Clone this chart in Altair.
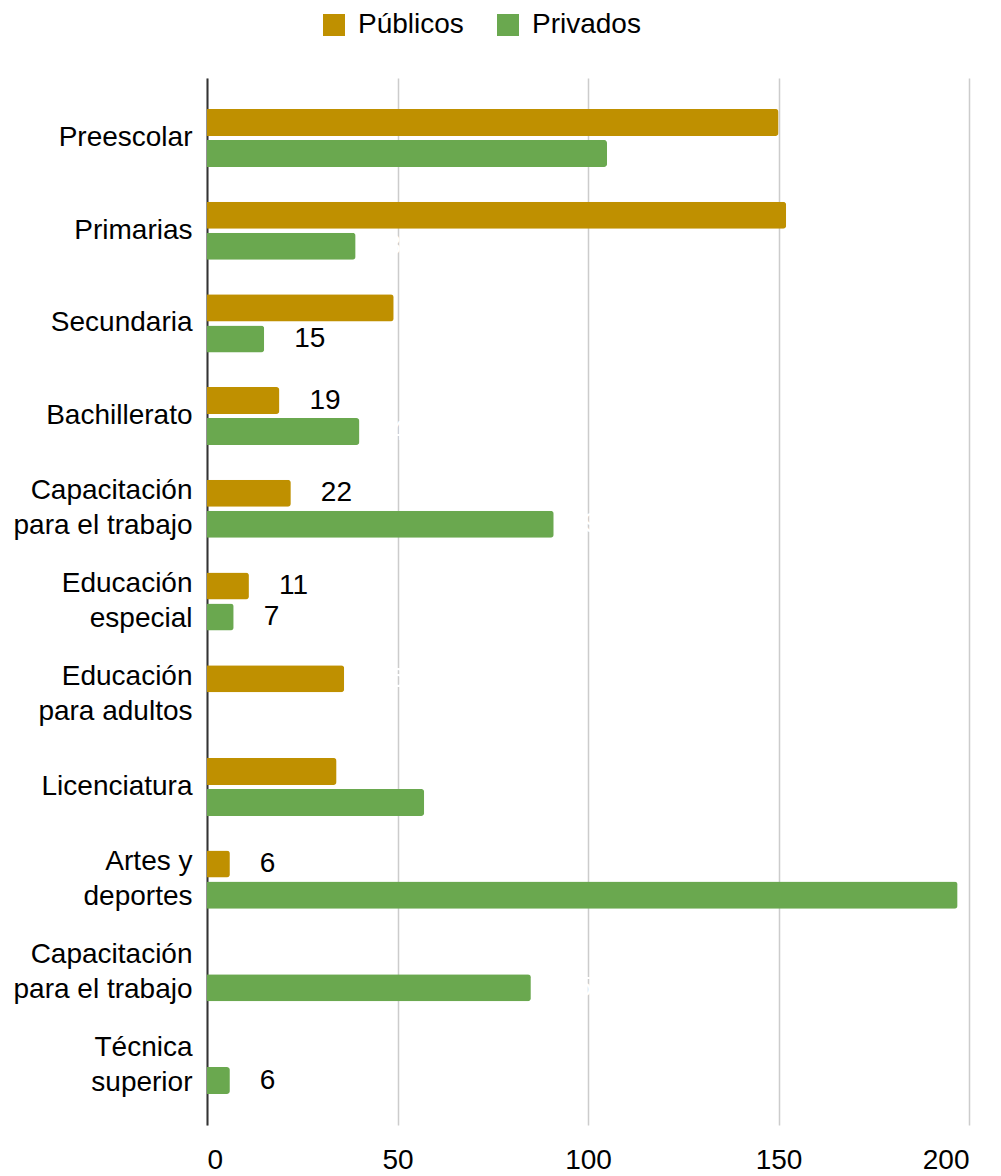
import json
import altair as alt
import pandas as pd

categories = [
    "Preescolar", "Primarias", "Secundaria", "Bachillerato",
    "Capacitación\npara el trabajo", "Educación\nespecial",
    "Educación\npara adultos", "Licenciatura", "Artes y\ndeportes",
    "Capacitación\npara el trabajo", "Técnica\nsuperior",
]
publicos = [150, 152, 49, 19, 22, 11, 36, 34, 6, None, None]
privados = [105, 39, 15, 40, 91, 7, None, 57, 197, 85, 6]
series = ["Públicos", "Privados"]
colors = ["#BF9000", "#6AA84F"]

rows = []
for i in range(len(categories)):
    for s, vals in zip(series, [publicos, privados]):
        if vals[i] is not None:
            rows.append({"idx": i, "serie": s, "v": vals[i]})
df = pd.DataFrame(rows)

label_lines = [c.split("\n") for c in categories]
label_expr = json.dumps(label_lines, ensure_ascii=False) + "[datum.value]"
multi_idx = [i for i, c in enumerate(categories) if "\n" in c]
multi_test = "indexof(" + json.dumps(multi_idx) + ", datum.value) >= 0"

FONT = "Liberation Sans"

y_enc = alt.Y("idx:O", sort="ascending",
              scale=alt.Scale(paddingInner=0.374, paddingOuter=0.334),
              axis=alt.Axis(title=None, labelExpr=label_expr, labelFontSize=28,
                            labelFont=FONT, labelColor="#000", labelPadding=15,
                            labelLineHeight=35, ticks=False, domain=True,
                            domainColor="#333", domainWidth=2, grid=False,
                            labelLimit=300,
                            labelOffset={"condition": {"test": multi_test, "value": -17.5},
                                         "value": 0}))
yoff = alt.YOffset("serie:N", sort=series, scale=alt.Scale(paddingInner=0.129))

x_enc = alt.X("v:Q", scale=alt.Scale(domain=[0, 200], nice=False),
              axis=alt.Axis(title=None, values=[0, 50, 100, 150, 200],
                            labelFontSize=28, labelFont=FONT, labelColor="#000",
                            labelPadding=21, ticks=False, domain=False,
                            grid=True, gridColor="#cccccc", gridWidth=1.5))

bars = alt.Chart(df).mark_bar(cornerRadiusEnd=3).encode(
    y=y_enc, yOffset=yoff, x=x_enc,
    color=alt.Color("serie:N", sort=series,
                    scale=alt.Scale(domain=series, range=colors),
                    legend=alt.Legend(title=None, orient="none", direction="horizontal",
                                      legendX=113, legendY=-67, labelFontSize=28,
                                      labelFont=FONT, labelColor="#000",
                                      symbolType="square", symbolSize=484,
                                      symbolStrokeWidth=0, labelOffset=10,
                                      columnPadding=30, padding=0)),
)

# value labels that would fall outside the plot area are not drawn
labels = alt.Chart(df).transform_filter("datum.v < 180").mark_text(
    align="left", baseline="middle", dx=30, fontSize=28, font=FONT, clip=True
).encode(
    y=y_enc, yOffset=yoff, x=x_enc,
    text=alt.Text("v:Q"),
    color=alt.condition("datum.v > 25", alt.value("#ffffff"), alt.value("#000000")),
)

chart = alt.layer(bars, labels).properties(
    width=762, height=1047,
    autosize=alt.AutoSizeParams(type="none"),
    padding={"left": 199, "top": 70, "right": 24, "bottom": 48},
).configure_view(stroke=None)

chart.save("out.html", embed_options={"renderer": "svg", "actions": False})
